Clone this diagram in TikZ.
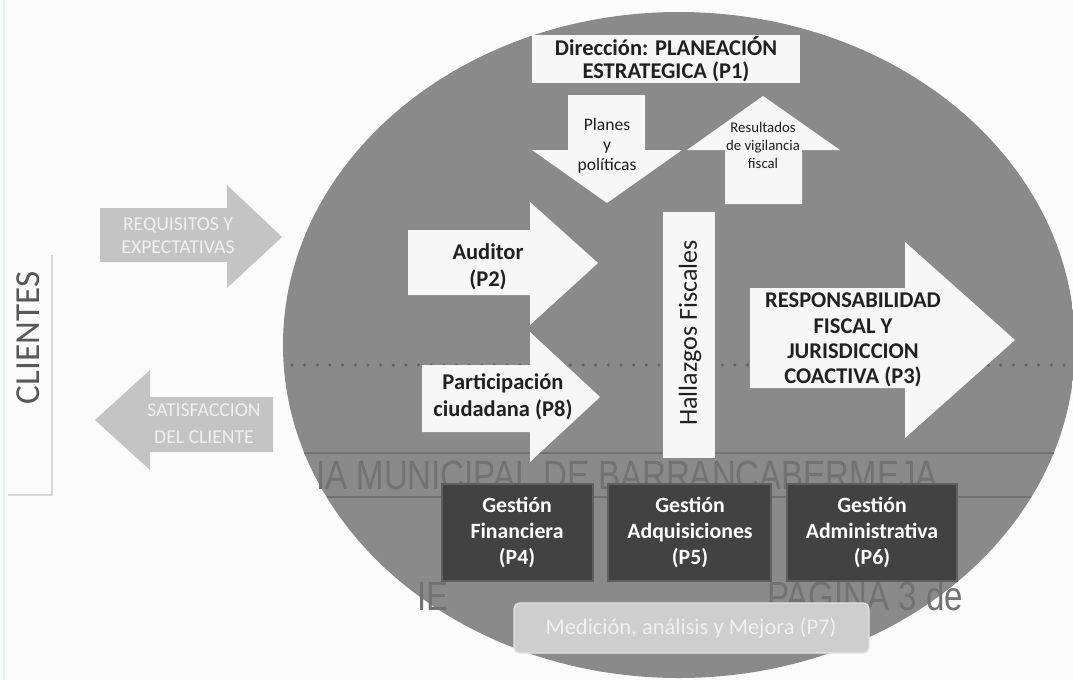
\documentclass[tikz,border=0pt]{standalone}
\usepackage{fontspec}
\setmainfont{Carlito}
\newfontfamily\ghostfont{Liberation Sans}
\usetikzlibrary{positioning}

\definecolor{paper}{RGB}{251,251,251}
\definecolor{edgecyan}{RGB}{222,242,246}
\definecolor{ovalgray}{RGB}{138,138,138}
\definecolor{ovalrim}{RGB}{112,112,112}
\definecolor{shapewhite}{RGB}{247,247,247}
\definecolor{ink}{RGB}{32,32,32}
\definecolor{boxdark}{RGB}{66,66,66}
\definecolor{boxedge}{RGB}{96,96,96}
\definecolor{palebox}{RGB}{206,206,206}
\definecolor{paleedge}{RGB}{226,226,226}
\definecolor{sidearrow}{RGB}{196,196,196}
\definecolor{sidetext}{RGB}{240,240,240}
\definecolor{clientgray}{RGB}{88,88,88}
\definecolor{ghostgray}{RGB}{114,114,114}
\definecolor{dotgray}{RGB}{98,98,98}
\definecolor{faintline}{RGB}{215,215,215}

\pgfdeclareradialshading{ovalshade}{\pgfpoint{0bp}{0bp}}{color(0bp)=(ovalgray); color(40bp)=(ovalgray); color(48bp)=(ovalrim); color(50bp)=(ovalrim)}

\tikzset{
  whiteshape/.style={fill=shapewhite},
  sideshape/.style={fill=sidearrow},
  darkshape/.style={fill=boxdark, draw=boxedge, line width=1.5pt},
  paleshape/.style={fill=palebox, draw=paleedge, line width=1pt, rounded corners=4pt},
  inklabel/.style={text=ink, align=center, inner sep=0pt},
  bigbold/.style={inklabel, font=\fontsize{16}{19}\selectfont\bfseries},
  smallink/.style={inklabel, font=\fontsize{12.5}{14.2}\selectfont},
  tinyink/.style={inklabel, font=\fontsize{10.5}{12.8}\selectfont},
  gestlabel/.style={text=white, align=center, inner sep=0pt, font=\fontsize{15.5}{18.5}\selectfont\bfseries},
  sidelabel/.style={text=sidetext, align=center, inner sep=0pt},
  ghosttext/.style={text=ghostgray, inner sep=0pt, xscale=0.81, font=\ghostfont\fontsize{29}{30}\selectfont}
}

\begin{document}
\begin{tikzpicture}[x=0.025cm, y=-0.025cm]
\useasboundingbox (0,0) rectangle (1073,680);
\fill[paper] (0,0) rectangle (1073,680);
\draw[edgecyan, line width=2pt] (4,0) -- (4,680);
\draw[faintline, line width=0.8pt] (52,255) -- (52,495) -- (8,495);

% the oval
\shade[shading=ovalshade] (679,345) ellipse [x radius=396, y radius=333];

% show-through of the scanned page
\draw[dotgray, line width=2.5pt, line cap=round, dash pattern=on 0pt off 9pt] (292,365) -- (1066,365);
\draw[ghostgray, line width=1.2pt] (304,453) -- (1054,453);
\draw[ghostgray, line width=1.2pt] (327,497) -- (1031,497);
\node[ghosttext] (membrete) at (627,475) {IA MUNICIPAL DE BARRANCABERMEJA};
\node[ghosttext, anchor=base east] (pie) at (449,610) {IE};
\node[ghosttext, anchor=base west] (pagina) at (767,610) {PAGINA 3 de};

% planeacion
\fill[whiteshape] (532,35) rectangle (800,83);
\node[bigbold, font=\fontsize{16}{16.5}\selectfont\bfseries] (p1) at (666,59) {Dirección: PLANEACIÓN\\ESTRATEGICA (P1)};

\fill[whiteshape] (568,95) -- (645,95) -- (645,150) -- (682,150) -- (607,203)
  -- (532,150) -- (568,150) -- cycle;
\node[smallink] (planes) at (607,146) {Planes\\y\\políticas};

\fill[whiteshape] (725,204) -- (802,204) -- (802,150) -- (840,150) -- (763,96)
  -- (687,150) -- (725,150) -- cycle;
\node[tinyink] (resultados) at (763,145) {Resultados\\de vigilancia\\fiscal};

% entradas
\fill[whiteshape] (408,230) -- (530,230) -- (530,202) -- (598,263) -- (530,325)
  -- (530,295) -- (408,295) -- cycle;
\node[bigbold] (auditor) at (488,267) {Auditor\\(P2)};

\fill[whiteshape] (422,365) -- (530,365) -- (530,332) -- (600,397) -- (530,462)
  -- (530,432) -- (422,432) -- cycle;
\node[bigbold] (ciudadana) at (503,397) {Participación\\ciudadana (P8)};

\fill[whiteshape] (663,212) rectangle (715,458);
\node[inklabel, rotate=90, font=\fontsize{18.5}{20}\selectfont] (hallazgos) at (690,333) {Hallazgos Fiscales};

\fill[whiteshape] (750,288) -- (905,288) -- (905,242) -- (1015,340) -- (905,438)
  -- (905,388) -- (750,388) -- cycle;
\node[bigbold, font=\fontsize{16}{18}\selectfont\bfseries] (responsabilidad) at (853,340)
  {RESPONSABILIDAD\\FISCAL Y\\JURISDICCION\\COACTIVA (P3)};

% apoyo
\filldraw[darkshape] (442,484) rectangle (593,581);
\node[gestlabel] (financiera) at (517,532) {Gestión\\Financiera\\(P4)};
\filldraw[darkshape] (608,484) rectangle (771,581);
\node[gestlabel] (adquisiciones) at (690,532) {Gestión\\Adquisiciones\\(P5)};
\filldraw[darkshape] (787,484) rectangle (957,581);
\node[gestlabel] (administrativa) at (872,532) {Gestión\\Administrativa\\(P6)};

\filldraw[paleshape] (514,603) rectangle (869,653);
\node[sidelabel, font=\fontsize{16}{18}\selectfont] (mejora) at (691,628) {Medición, análisis y Mejora (P7)};

% clientes
\node[text=clientgray, rotate=90, inner sep=0pt, font=\fontsize{25}{26}\selectfont] (clientes) at (28,338) {CLIENTES};

\fill[sideshape] (100,208) -- (227,208) -- (227,185) -- (282,237) -- (227,288)
  -- (227,262) -- (100,262) -- cycle;
\node[sidelabel, font=\fontsize{14}{16.5}\selectfont] (requisitos) at (178,236) {REQUISITOS Y\\EXPECTATIVAS};

\fill[sideshape] (273,397) -- (150,397) -- (150,370) -- (95,420) -- (150,470)
  -- (150,452) -- (273,452) -- cycle;
\node[sidelabel, font=\fontsize{14}{19}\selectfont] (satisfaccion) at (204,424) {SATISFACCION\\DEL CLIENTE};
\end{tikzpicture}
\end{document}
